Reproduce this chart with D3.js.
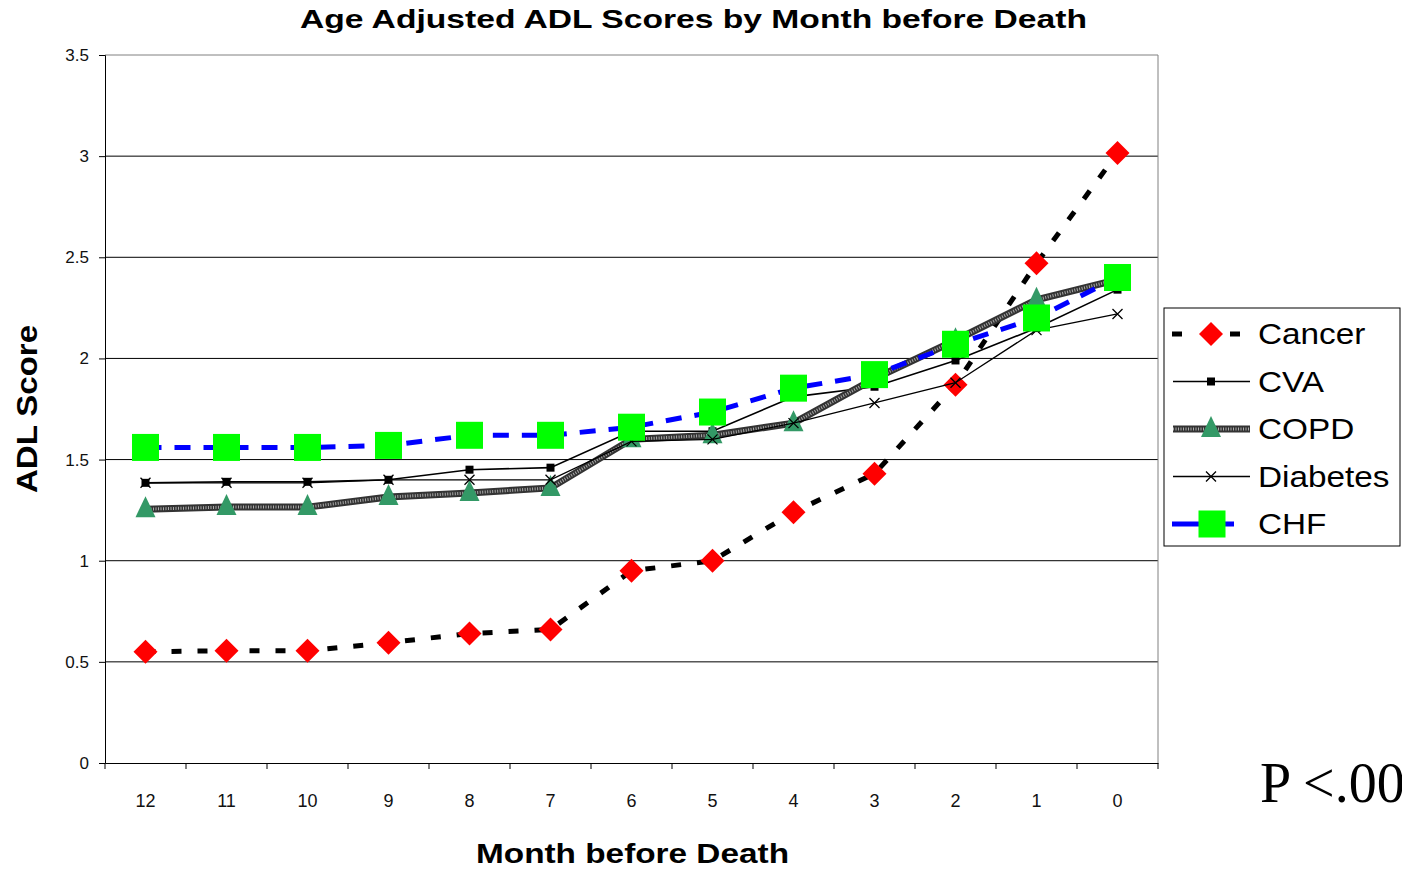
<!DOCTYPE html>
<html>
<head>
<meta charset="utf-8">
<script src="https://cdn.jsdelivr.net/npm/d3@7"></script>
<style>
body { margin: 0; background: #fff; overflow: hidden; }
text { font-family: Arial, "Liberation Sans", sans-serif; }
</style>
</head>
<body>
<script>
// Data
var months = ["12", "11", "10", "9", "8", "7", "6", "5", "4", "3", "2", "1", "0"];
var cancer   = [0.55, 0.555, 0.555, 0.595, 0.64, 0.66, 0.95, 1.0, 1.24, 1.43, 1.87, 2.47, 3.015];
var cva      = [1.385, 1.39, 1.39, 1.40, 1.45, 1.46, 1.64, 1.64, 1.81, 1.86, 1.99, 2.15, 2.34];
var copd     = [1.255, 1.265, 1.265, 1.315, 1.335, 1.36, 1.60, 1.62, 1.68, 1.90, 2.09, 2.29, 2.39];
var diabetes = [1.385, 1.385, 1.385, 1.40, 1.40, 1.40, 1.59, 1.60, 1.68, 1.78, 1.88, 2.14, 2.22];
var chf      = [1.56, 1.56, 1.56, 1.57, 1.62, 1.62, 1.66, 1.735, 1.853, 1.92, 2.07, 2.20, 2.40];
var yTicks = [0, 0.5, 1, 1.5, 2, 2.5, 3, 3.5];

var series = [
    { name: "Cancer", values: cancer, marker: "diamond" },
    { name: "CVA", values: cva, marker: "smallsquare" },
    { name: "COPD", values: copd, marker: "triangle" },
    { name: "Diabetes", values: diabetes, marker: "cross" },
    { name: "CHF", values: chf, marker: "bigsquare" }
];

var W = 1402, H = 872;
var margin = { top: 55, right: 244, bottom: 109, left: 105 };
var width = W - margin.left - margin.right,
    height = H - margin.top - margin.bottom;

var svg = d3.select("body").append("svg")
    .attr("width", W)
    .attr("height", H);

var g = svg.append("g")
    .attr("transform", "translate(" + margin.left + "," + margin.top + ")");

var x = d3.scaleBand().domain(months).range([0, width]).padding(0);
var y = d3.scaleLinear().domain([0, 3.5]).range([height, 0]);

// gridlines
g.selectAll(".grid")
    .data(yTicks.slice(1))
    .enter().append("line")
    .attr("x1", 0).attr("x2", width)
    .attr("y1", function (d) { return y(d); })
    .attr("y2", function (d) { return y(d); })
    .attr("stroke", function (d) { return d === 3.5 ? "#808080" : "#000"; })
    .attr("stroke-width", 1);

// right border
g.append("line")
    .attr("x1", width).attr("x2", width)
    .attr("y1", 0).attr("y2", height)
    .attr("stroke", "#808080");

// y axis
var yAxis = g.append("g")
    .call(d3.axisLeft(y).tickValues(yTicks).tickSize(6).tickPadding(10)
        .tickFormat(function (d) { return d; }));
yAxis.select(".domain").attr("stroke", "#000");
yAxis.selectAll("text").style("font-size", "17px").attr("fill", "#111");

// x axis
var xAxis = g.append("g")
    .attr("transform", "translate(0," + height + ")")
    .call(d3.axisBottom(x).tickSize(0).tickPadding(31));
xAxis.select(".domain").attr("stroke", "#000");
xAxis.selectAll("text").style("font-size", "18px").attr("fill", "#111");
// ticks at band edges
g.selectAll(".xtick")
    .data(months.concat(["end"]))
    .enter().append("line")
    .attr("x1", function (d, i) { return i * x.bandwidth(); })
    .attr("x2", function (d, i) { return i * x.bandwidth(); })
    .attr("y1", height).attr("y2", height + 6)
    .attr("stroke", "#000");

// line styles
function styleLine(sel, name) {
    if (name === "Cancer") {
        sel.append("path").attr("stroke", "#000").attr("stroke-width", 5)
            .attr("stroke-dasharray", "10,16");
    } else if (name === "CVA") {
        sel.append("path").attr("stroke", "#000").attr("stroke-width", 1.6);
    } else if (name === "COPD") {
        sel.append("path").attr("stroke", "#333").attr("stroke-width", 7);
        sel.append("path").attr("stroke", "#aaa").attr("stroke-width", 3)
            .attr("stroke-dasharray", "1,1.5");
    } else if (name === "Diabetes") {
        sel.append("path").attr("stroke", "#000").attr("stroke-width", 1.3);
    } else if (name === "CHF") {
        sel.append("path").attr("stroke", "#0000ff").attr("stroke-width", 5)
            .attr("stroke-dasharray", "16,13");
    }
    sel.selectAll("path").attr("fill", "none");
}

function drawMarker(sel, type) {
    if (type === "diamond") {
        sel.append("path").attr("d", "M0,-12L12,0L0,12L-12,0Z").attr("fill", "#ff0000");
    } else if (type === "smallsquare") {
        sel.append("rect").attr("x", -4).attr("y", -4).attr("width", 8).attr("height", 8).attr("fill", "#000");
    } else if (type === "triangle") {
        sel.append("path").attr("d", "M0,-13L10,8L-10,8Z").attr("fill", "#339966");
    } else if (type === "cross") {
        sel.append("path").attr("d", "M-5,-5L5,5M5,-5L-5,5").attr("stroke", "#000").attr("stroke-width", 1.3);
    } else if (type === "bigsquare") {
        sel.append("rect").attr("x", -13.5).attr("y", -13.5).attr("width", 27).attr("height", 27).attr("fill", "#00ff00");
    }
}

var line = d3.line()
    .x(function (d, i) { return x(months[i]) + x.bandwidth() / 2; })
    .y(function (d) { return y(d); });

series.forEach(function (s) {
    var sg = g.append("g").attr("class", "series");
    styleLine(sg, s.name);
    sg.selectAll("path").attr("d", line(s.values));
    s.values.forEach(function (v, i) {
        var m = sg.append("g")
            .attr("transform", "translate(" + (x(months[i]) + x.bandwidth() / 2) + "," + y(v) + ")");
        drawMarker(m, s.marker);
    });
});

// legend
var legend = svg.append("g").attr("transform", "translate(1164,308)");
legend.append("rect")
    .attr("x", 0).attr("y", 0).attr("width", 236).attr("height", 238)
    .attr("fill", "#fff").attr("stroke", "#000");
series.forEach(function (s, i) {
    var ly = 26 + i * 47.5;
    var item = legend.append("g").attr("transform", "translate(0," + ly + ")");
    var lg = item.append("g");
    styleLine(lg, s.name);
    lg.selectAll("path").attr("d", "M9,0L86,0");
    if (s.name === "Cancer") lg.selectAll("path").attr("stroke-dasharray", "10,48").attr("d", "M8,0L76,0");
    if (s.name === "CHF") lg.selectAll("path").attr("stroke-dasharray", null).attr("d", "M8,0L70,0");
    var m = item.append("g").attr("transform", "translate(" + (s.name === "CHF" ? 48 : 47) + ",0)");
    drawMarker(m, s.marker);
    var t = item.append("text")
        .attr("x", 94).attr("y", 10)
        .style("font-size", "30px")
        .text(s.name);
    t.attr("textLength", t.node().getComputedTextLength() * 1.11)
        .attr("lengthAdjust", "spacingAndGlyphs");
});

// titles
svg.append("text")
    .attr("x", 300).attr("y", 28)
    .attr("textLength", 787).attr("lengthAdjust", "spacingAndGlyphs")
    .style("font-size", "26px").style("font-weight", "bold")
    .text("Age Adjusted ADL Scores by Month before Death");

svg.append("text")
    .attr("x", 476).attr("y", 863)
    .attr("textLength", 313).attr("lengthAdjust", "spacingAndGlyphs")
    .style("font-size", "28px").style("font-weight", "bold")
    .text("Month before Death");

svg.append("text")
    .attr("transform", "translate(37,493) rotate(-90)")
    .attr("textLength", 168).attr("lengthAdjust", "spacingAndGlyphs")
    .style("font-size", "30px").style("font-weight", "bold")
    .text("ADL Score");

svg.append("text")
    .attr("x", 1260).attr("y", 802)
    .style("font-family", "'Liberation Serif', 'Times New Roman', serif")
    .style("font-size", "56px")
    .text("P <.001");
</script>
</body>
</html>
